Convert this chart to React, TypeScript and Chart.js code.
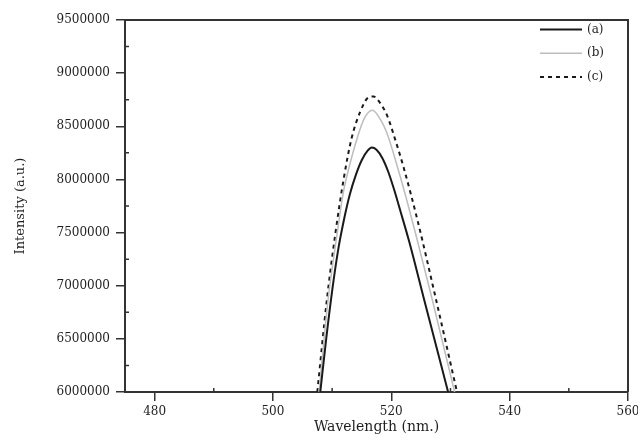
import React, { useEffect, useRef } from "react";
import { Chart, registerables } from "chart.js";

Chart.register(...registerables);

const seriesLabels = ["(a)", "(b)", "(c)"];

const aWavelength = [508.0, 509.0, 510.0, 511.0, 512.0, 513.0, 514.0, 515.0, 516.0, 516.7, 517.5, 518.5, 519.5, 520.5, 521.5, 523.0, 525.5, 529.6];
const aIntensity = [6000000, 6500000, 6950000, 7330000, 7620000, 7860000, 8040000, 8180000, 8270000, 8300000, 8280000, 8200000, 8070000, 7900000, 7710000, 7420000, 6880000, 6000000];

const bWavelength = [507.8, 509.3, 510.9, 511.9, 512.8, 514.3, 515.4, 516.8, 518.3, 519.5, 520.5, 521.5, 522.5, 524.2, 526.7, 530.7];
const bIntensity = [6000000, 6860000, 7510000, 7880000, 8100000, 8400000, 8570000, 8650000, 8550000, 8400000, 8220000, 8030000, 7830000, 7470000, 6920000, 6000000];

const cWavelength = [507.5, 509.1, 510.6, 512.0, 513.3, 514.7, 516.1, 517.0, 518.1, 519.3, 520.8, 522.1, 524.5, 527.6, 531.1];
const cIntensity = [6000000, 6860000, 7510000, 8020000, 8390000, 8630000, 8770000, 8780000, 8720000, 8600000, 8350000, 8110000, 7600000, 6860000, 6000000];

const xTickValues = [480, 500, 520, 540, 560];
const xMinorTickValues = [490, 510, 530, 550];
const yTickValues = [6000000, 6500000, 7000000, 7500000, 8000000, 8500000, 9000000, 9500000];
const yMinorTickValues = [6250000, 6750000, 7250000, 7750000, 8250000, 8750000, 9250000];

const FONT = "'DejaVu Serif', 'Liberation Serif', serif";
const AXIS = "#333333";
const TEXT = "#1e1e1e";

const toPoints = (xs: number[], ys: number[]) => xs.map((x, i) => ({ x, y: ys[i] }));

const decorPlugin = {
  id: "decor",
  afterDraw(chart: any) {
    const { ctx, chartArea, scales } = chart;
    const { left, right, top, bottom } = chartArea;
    ctx.save();
    ctx.strokeStyle = AXIS;
    ctx.lineWidth = 2;
    ctx.beginPath();
    ctx.moveTo(left, top);
    ctx.lineTo(right, top);
    ctx.lineTo(right, bottom);
    ctx.stroke();
    ctx.lineWidth = 1.5;
    ctx.beginPath();
    xMinorTickValues.forEach((v) => {
      const px = scales.x.getPixelForValue(v);
      ctx.moveTo(px, bottom);
      ctx.lineTo(px, bottom - 4);
    });
    yMinorTickValues.forEach((v) => {
      const py = scales.y.getPixelForValue(v);
      ctx.moveTo(left, py);
      ctx.lineTo(left + 4, py);
    });
    ctx.stroke();
    ctx.font = `12px ${FONT}`;
    ctx.textAlign = "left";
    ctx.textBaseline = "middle";
    chart.data.datasets.forEach((ds: any, i: number) => {
      const y = top + 9.5 + i * 23.7;
      ctx.strokeStyle = ds.borderColor;
      ctx.lineWidth = ds.borderWidth;
      ctx.setLineDash(ds.borderDash || []);
      ctx.beginPath();
      ctx.moveTo(right - 88, y);
      ctx.lineTo(right - 46, y);
      ctx.stroke();
      ctx.setLineDash([]);
      ctx.fillStyle = TEXT;
      ctx.fillText(ds.label, right - 41, y);
    });
    ctx.restore();
  },
};

export default function App() {
  const canvasRef = useRef<HTMLCanvasElement | null>(null);

  useEffect(() => {
    document.body.style.margin = "0";
    const canvas = canvasRef.current;
    if (!canvas) return;
    const common = { pointRadius: 0, cubicInterpolationMode: "monotone", fill: false };
    const chart = new Chart(canvas, {
      type: "line",
      data: {
        datasets: [
          {
            label: seriesLabels[0],
            data: toPoints(aWavelength, aIntensity),
            borderColor: "#1a1a1a",
            borderWidth: 2,
            ...common,
          },
          {
            label: seriesLabels[1],
            data: toPoints(bWavelength, bIntensity),
            borderColor: "#bdbdbd",
            borderWidth: 1.5,
            ...common,
          },
          {
            label: seriesLabels[2],
            data: toPoints(cWavelength, cIntensity),
            borderColor: "#1a1a1a",
            borderWidth: 2,
            borderDash: [4, 4],
            ...common,
          },
        ],
      },
      options: {
        responsive: false,
        animation: false,
        devicePixelRatio: 1,
        layout: { padding: { top: 20, right: 10, left: 0, bottom: 0 } },
        plugins: {
          legend: { display: false },
          tooltip: { enabled: false },
        },
        font: { family: FONT },
        scales: {
          x: {
            type: "linear",
            min: 475,
            max: 560,
            afterBuildTicks: (scale: any) => {
              scale.ticks = xTickValues.map((v) => ({ value: v }));
            },
            afterFit: (scale: any) => {
              scale.height = 56;
              scale.paddingLeft = 0;
              scale.paddingRight = 0;
            },
            border: { display: true, color: AXIS, width: 2 },
            grid: {
              display: true,
              drawOnChartArea: false,
              drawTicks: true,
              tickLength: 9,
              color: AXIS,
              lineWidth: 1.5,
            },
            ticks: {
              autoSkip: false,
              maxRotation: 0,
              padding: 4,
              color: TEXT,
              font: { family: FONT, size: 12 },
              callback: (v: any) => String(v),
            },
            title: {
              display: true,
              text: "Wavelength (nm.)",
              color: TEXT,
              font: { family: FONT, size: 14 },
              padding: { top: 0, bottom: 12 },
            },
          },
          y: {
            type: "linear",
            min: 6000000,
            max: 9500000,
            afterBuildTicks: (scale: any) => {
              scale.ticks = yTickValues.map((v) => ({ value: v }));
            },
            afterFit: (scale: any) => {
              scale.width = 125;
              scale.paddingTop = 0;
              scale.paddingBottom = 0;
            },
            border: { display: true, color: AXIS, width: 2 },
            grid: {
              display: true,
              drawOnChartArea: false,
              drawTicks: true,
              tickLength: 9,
              color: AXIS,
              lineWidth: 1.5,
            },
            ticks: {
              autoSkip: false,
              padding: 6,
              color: TEXT,
              font: { family: FONT, size: 12 },
              callback: (v: any) => String(v),
            },
            title: {
              display: true,
              text: "Intensity (a.u.)",
              color: TEXT,
              font: { family: FONT, size: 13 },
              padding: { top: 13, bottom: 0 },
            },
          },
        },
      },
      plugins: [decorPlugin],
    } as any);
    return () => chart.destroy();
  }, []);

  return (
    <div style={{ width: 638, height: 448 }}>
      <canvas ref={canvasRef} width={638} height={448} style={{ display: "block" }} />
    </div>
  );
}
